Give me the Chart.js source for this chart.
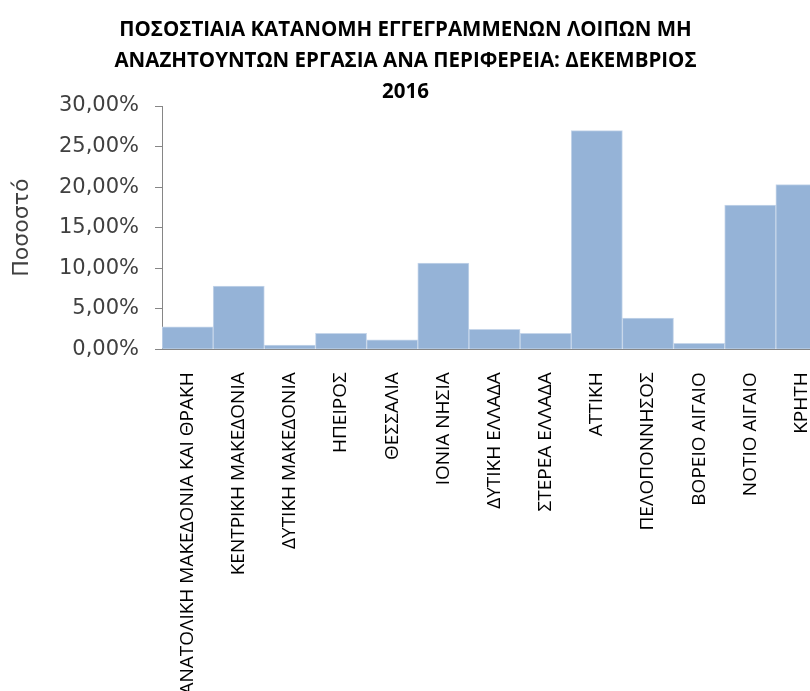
<!DOCTYPE html>
<html>
<head>
<meta charset="utf-8">
<script src="https://cdn.jsdelivr.net/npm/chart.js@4/dist/chart.umd.min.js"></script>
<style>
  html, body { margin: 0; padding: 0; background: #fff; overflow: hidden; width: 810px; height: 691px; }
  #wrap { position: absolute; left: -16px; top: 0; width: 845px; height: 720px; }
</style>
</head>
<body>
<div id="wrap"><canvas id="chart"></canvas></div>
<script>
// Περιφέρειες και ποσοστά (Δεκέμβριος 2016)
const regions = [
  'ΑΝΑΤΟΛΙΚΗ ΜΑΚΕΔΟΝΙΑ ΚΑΙ ΘΡΑΚΗ', 'ΚΕΝΤΡΙΚΗ ΜΑΚΕΔΟΝΙΑ', 'ΔΥΤΙΚΗ ΜΑΚΕΔΟΝΙΑ',
  'ΗΠΕΙΡΟΣ', 'ΘΕΣΣΑΛΙΑ', 'ΙΟΝΙΑ ΝΗΣΙΑ', 'ΔΥΤΙΚΗ ΕΛΛΑΔΑ', 'ΣΤΕΡΕΑ ΕΛΛΑΔΑ',
  'ΑΤΤΙΚΗ', 'ΠΕΛΟΠΟΝΝΗΣΟΣ', 'ΒΟΡΕΙΟ ΑΙΓΑΙΟ', 'ΝΟΤΙΟ ΑΙΓΑΙΟ', 'ΚΡΗΤΗ'
];
const shares = [2.78, 7.80, 0.53, 1.97, 1.18, 10.62, 2.46, 1.97, 26.97, 3.85, 0.74, 17.77, 20.30];

const titleLines = [
  'ΠΟΣΟΣΤΙΑΙΑ ΚΑΤΑΝΟΜΗ ΕΓΓΕΓΡΑΜΜΕΝΩΝ ΛΟΙΠΩΝ ΜΗ',
  'ΑΝΑΖΗΤΟΥΝΤΩΝ ΕΡΓΑΣΙΑ ΑΝΑ ΠΕΡΙΦΕΡΕΙΑ: ΔΕΚΕΜΒΡΙΟΣ',
  '2016'
];
const yTitle = 'Ποσοστό';

const fmtPct = v => v.toFixed(2).replace('.', ',') + '%';

new Chart(document.getElementById('chart'), {
  type: 'bar',
  data: {
    labels: regions,
    datasets: [{
      data: shares,
      backgroundColor: '#95b3d7',
      borderColor: '#c6d6ea',
      borderWidth: 1,
      categoryPercentage: 1,
      barPercentage: 1
    }]
  },
  options: {
    responsive: true,
    maintainAspectRatio: false,
    animation: false,
    layout: { padding: { right: 2 } },
    plugins: {
      legend: { display: false },
      tooltip: { enabled: false },
      title: {
        display: true,
        text: titleLines,
        color: '#000',
        font: { family: 'Open Sans', size: 20.5, weight: 'bold', lineHeight: '31px' },
        padding: { top: 15, bottom: -2 }
      }
    },
    scales: {
      x: {
        afterFit: s => {
          s.height = 720 - 349.3;
          // the last bar runs off the right edge, as in the original
          s.paddingRight = 0;
          s.paddingLeft = 0;
        },
        grid: { display: false },
        border: { display: true, color: '#868686' },
        ticks: {
          color: '#000',
          font: { family: 'Open Sans', size: 19 },
          minRotation: 90,
          maxRotation: 90,
          autoSkip: false,
          padding: 15
        }
      },
      y: {
        min: 0,
        max: 30,
        afterFit: s => { s.width = 178; },
        grid: { drawOnChartArea: false, drawTicks: true, tickLength: 7, color: '#868686' },
        border: { display: true, color: '#868686' },
        ticks: {
          stepSize: 5,
          color: '#404040',
          font: { family: 'DejaVu Sans', size: 21 },
          padding: 16,
          callback: v => fmtPct(v)
        },
        title: {
          display: true,
          text: yTitle,
          color: '#404040',
          font: { family: 'DejaVu Sans', size: 22 },
          padding: { top: 25, bottom: 0 }
        }
      }
    }
  }
});
</script>
</body>
</html>
